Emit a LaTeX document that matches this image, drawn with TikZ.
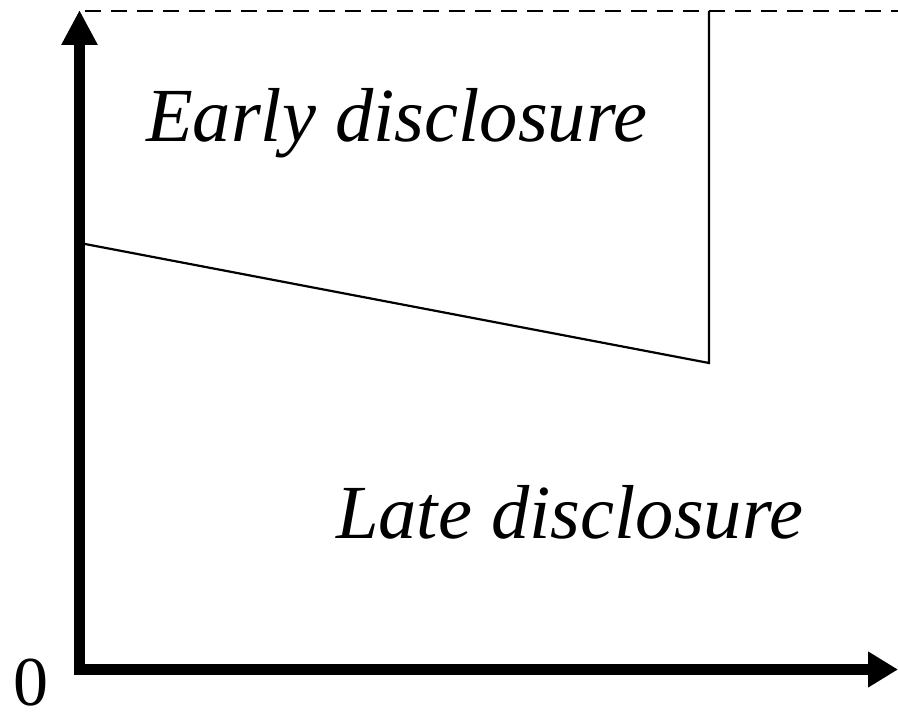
\documentclass[tikz,border=0pt]{standalone}
\usepackage{fontspec}
\setmainfont{Liberation Serif}
\usetikzlibrary{arrows.meta}
\tikzset{
  axis/.style={line width=11pt, line join=miter,
    {Triangle[length=35pt,width=34pt]}-{Triangle[length=30pt,width=34pt]}},
  bound/.style={line width=2.2pt},
  limit/.style={line width=2.4pt, dash pattern=on 16pt off 10pt},
  region/.style={inner sep=0pt, anchor=base west, font=\fontsize{76.5}{82}\selectfont\itshape},
  origin/.style={inner sep=0pt, anchor=base, font=\fontsize{70}{80}\selectfont}
}
\begin{document}
\begin{tikzpicture}[x=1pt,y=-1pt]
  \useasboundingbox (0,0) rectangle (898,714);
  % axes
  \coordinate (O) at (79.5,669.5);
  \coordinate (ytop) at (79.5,10);
  \coordinate (xend) at (898,669.5);
  \draw[axis] (ytop) -- (O) -- (xend);
  % upper limit (dashed)
  \coordinate (dstart) at (85,11);
  \coordinate (dend) at (898,11);
  \draw[limit] (dstart) -- (dend);
  % boundary between the two regions
  \coordinate (b0) at (85,244);
  \coordinate (b1) at (709,363);
  \coordinate (b2) at (709,11);
  \draw[bound] (b0) -- (b1) -- (b2);
  % labels
  \node[region] (early) at (146,142) {Early disclosure};
  \node[region] (late) at (336,538) {Late disclosure};
  \node[origin] (zero) at (31,705) {0};
\end{tikzpicture}
\end{document}
